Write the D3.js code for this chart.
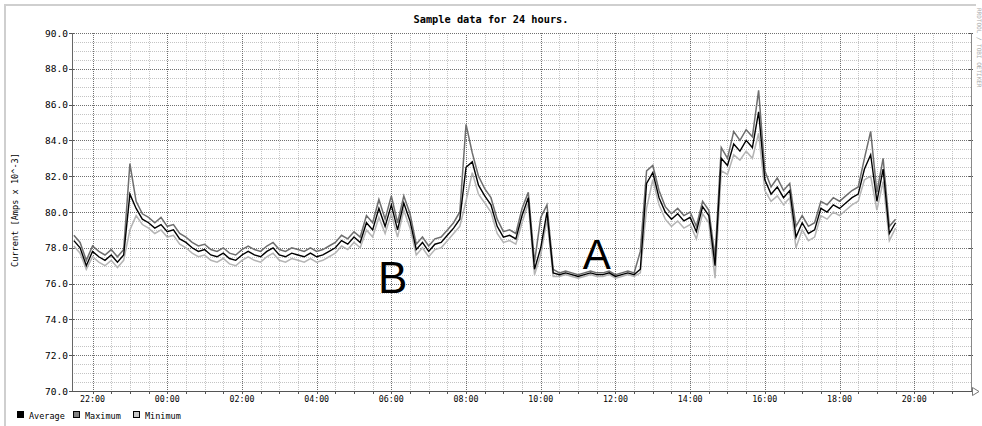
<!DOCTYPE html>
<html>
<head>
<meta charset="utf-8">
<script src="https://cdn.jsdelivr.net/npm/d3@7"></script>
<style>
  body { margin: 0; background: #fff; }
  svg { display: block; }
  text { font-family: "DejaVu Sans Mono", monospace; fill: #000; }
</style>
</head>
<body>
<svg width="982" height="426"></svg>
<script>
// samples every 10 min starting 21:30
const avgValues = [
  78.4, 78.0, 77.0, 77.8, 77.5, 77.3, 77.6, 77.2, 77.6, 81.0,
  80.2, 79.6, 79.4, 79.1, 79.3, 78.9, 79.0, 78.5, 78.3, 78.0,
  77.8, 77.9, 77.6, 77.5, 77.7, 77.4, 77.3, 77.6, 77.8, 77.6,
  77.5, 77.8, 78.0, 77.6, 77.5, 77.7, 77.6, 77.5, 77.7, 77.5,
  77.6, 77.8, 78.0, 78.4, 78.2, 78.6, 78.3, 79.4, 79.0, 80.2,
  79.2, 80.4, 79.0, 80.5, 79.5, 77.9, 78.3, 77.8, 78.2, 78.3,
  78.7, 79.1, 79.6, 82.5, 82.8, 81.5, 80.9, 80.4, 79.2, 78.6,
  78.7, 78.5, 79.8, 80.8, 76.8, 78.0, 80.0, 76.6, 76.5, 76.6,
  76.5, 76.4, 76.5, 76.6, 76.5, 76.5, 76.6, 76.4, 76.5, 76.6,
  76.5, 76.8, 81.6, 82.2, 80.8, 80.0, 79.6, 79.9, 79.5, 79.7,
  78.9, 80.3, 79.8, 77.0, 83.0, 82.6, 83.8, 83.4, 84.0, 83.6,
  85.6, 81.8, 81.0, 81.4, 80.8, 81.2, 78.6, 79.4, 78.8, 79.0,
  80.2, 80.0, 80.4, 80.2, 80.5, 80.8, 81.0, 82.4, 83.2, 80.6,
  82.4, 78.8, 79.4
]
const maxValues = [
  78.7, 78.3, 77.3, 78.1, 77.8, 77.6, 77.9, 77.5, 77.9, 82.7,
  80.6, 79.9, 79.7, 79.4, 79.7, 79.2, 79.3, 78.8, 78.6, 78.3,
  78.1, 78.2, 77.9, 77.8, 78.0, 77.7, 77.6, 77.9, 78.1, 77.9,
  77.8, 78.1, 78.3, 77.9, 77.8, 78.0, 77.9, 77.8, 78.0, 77.8,
  77.9, 78.1, 78.3, 78.7, 78.5, 78.9, 78.6, 79.8, 79.4, 80.7,
  79.6, 80.9, 79.4, 80.9, 79.9, 78.2, 78.6, 78.1, 78.5, 78.6,
  79.0, 79.4, 80.0, 84.9, 83.3, 82.0, 81.3, 80.8, 79.6, 78.9,
  79.0, 78.8, 80.2, 81.1, 77.2, 79.7, 80.4, 76.8, 76.6, 76.7,
  76.6, 76.5, 76.6, 76.7, 76.6, 76.6, 76.7, 76.5, 76.6, 76.7,
  76.6, 77.8, 82.3, 82.6, 81.2, 80.3, 79.9, 80.2, 79.8, 80.0,
  79.2, 80.6, 80.1, 77.5, 83.6, 83.0, 84.5, 84.0, 84.6, 84.2,
  86.8, 82.3, 81.4, 81.9, 81.2, 81.6, 79.2, 79.8, 79.2, 79.4,
  80.6, 80.4, 80.8, 80.6, 80.9, 81.2, 81.4, 83.0, 84.5, 81.1,
  83.0, 79.2, 79.6
]
const minValues = [
  78.1, 77.7, 76.8, 77.5, 77.2, 77.0, 77.3, 76.9, 77.3, 79.0,
  79.8, 79.3, 79.1, 78.8, 79.0, 78.6, 78.7, 78.2, 78.0, 77.7,
  77.5, 77.6, 77.3, 77.2, 77.4, 77.1, 77.0, 77.3, 77.5, 77.3,
  77.2, 77.5, 77.7, 77.3, 77.2, 77.4, 77.3, 77.2, 77.4, 77.2,
  77.3, 77.5, 77.7, 78.1, 77.9, 78.3, 78.0, 79.0, 78.6, 79.7,
  78.8, 79.9, 78.6, 80.1, 79.1, 77.6, 78.0, 77.5, 77.9, 78.0,
  78.4, 78.8, 79.2, 80.6, 82.2, 81.0, 80.5, 80.0, 78.8, 78.3,
  78.4, 78.2, 79.4, 80.5, 76.5, 77.6, 79.6, 76.4, 76.4, 76.5,
  76.4, 76.3, 76.4, 76.5, 76.4, 76.4, 76.5, 76.3, 76.4, 76.5,
  76.4, 76.6, 80.2, 81.8, 80.4, 79.6, 79.2, 79.5, 79.1, 79.3,
  78.5, 79.9, 79.4, 76.3, 82.3, 82.1, 83.2, 82.9, 83.4, 83.0,
  84.4, 81.2, 80.6, 80.9, 80.4, 80.8, 78.0, 79.0, 78.4, 78.6,
  79.8, 79.6, 80.0, 79.8, 80.1, 80.4, 80.6, 81.8, 82.0, 80.1,
  81.7, 78.4, 79.1
]
const yTicks = [70, 72, 74, 76, 78, 80, 82, 84, 86, 88, 90]
const legendItems = [
  { name: 'Average', fill: '#000' },
  { name: 'Maximum', fill: '#808080' },
  { name: 'Minimum', fill: '#c8c8c8' }
]
const notes = [
  { label: 'B', t: [6, 2], v: 75.5, size: 44 },
  { label: 'A', t: [11, 30], v: 76.8, size: 42 }
]

const tStart = new Date(Date.UTC(2024, 0, 1, 21, 27))
const tEnd = new Date(tStart.getTime() + 24 * 3600e3)
const sampleStart = new Date(Date.UTC(2024, 0, 1, 21, 30))
const timeAt = i => new Date(sampleStart.getTime() + i * 600e3)
const noteTime = t => new Date(Date.UTC(2024, 0, t[0] < 21 ? 2 : 1, t[0], t[1]))

const pLeft = 72, pTop = 33, pBottom = 391, pRight = 971
const x = d3.scaleUtc().domain([tStart, tEnd]).range([pLeft, 968.4])
const y = d3.scaleLinear().domain([70, 90]).range([pBottom, pTop])

const svg = d3.select('svg')

// frame
svg.append('path')
   .attr('d', `M5,426 V5 H976`)
   .attr('fill', 'none')
   .attr('stroke', '#cfcfcf')
   .attr('stroke-width', 2)

const grid = svg.append('g').attr('shape-rendering', 'crispEdges')
const py = v => Math.round(y(v)) + 0.5

// horizontal grid
d3.range(70.5, 90, 0.5).filter(v => v % 2 !== 0).forEach(v => {
    grid.append('line')
        .attr('x1', pLeft).attr('x2', pRight)
        .attr('y1', py(v)).attr('y2', py(v))
        .attr('stroke', '#c4c4c4').attr('stroke-dasharray', '1,1')
})
// vertical grid
d3.utcMinute.every(30).range(tStart, tEnd).forEach(t => {
    if (x(t) < pLeft + 3) return
    const major = t.getUTCMinutes() === 0 && t.getUTCHours() % 2 === 0
    const px = Math.round(x(t)) + 0.5
    grid.append('line')
        .attr('x1', px).attr('x2', px)
        .attr('y1', pTop).attr('y2', pBottom)
        .attr('stroke', major ? '#707070' : '#c4c4c4').attr('stroke-dasharray', '1,1')
    grid.append('line')
        .attr('x1', px).attr('x2', px)
        .attr('y1', pBottom).attr('y2', pBottom + 3)
        .attr('stroke', '#555')
})
yTicks.forEach(v => {
    grid.append('line')
        .attr('x1', pLeft).attr('x2', pRight)
        .attr('y1', py(v)).attr('y2', py(v))
        .attr('stroke', '#707070').attr('stroke-dasharray', '1,1')
    grid.append('line')
        .attr('x1', pLeft - 3).attr('x2', pLeft + 2)
        .attr('y1', py(v)).attr('y2', py(v))
        .attr('stroke', '#555')
    grid.append('line')
        .attr('x1', pRight - 2).attr('x2', pRight + 2)
        .attr('y1', py(v)).attr('y2', py(v))
        .attr('stroke', '#555')
})

// axes lines
grid.append('line').attr('x1', pLeft + 0.5).attr('x2', pLeft + 0.5)
    .attr('y1', pTop).attr('y2', pBottom).attr('stroke', '#666')
grid.append('line').attr('x1', pRight + 0.5).attr('x2', pRight + 0.5)
    .attr('y1', pTop).attr('y2', pBottom).attr('stroke', '#888')
grid.append('line').attr('x1', pLeft).attr('x2', pRight + 3)
    .attr('y1', pBottom + 0.5).attr('y2', pBottom + 0.5).attr('stroke', '#555')
svg.append('path')
   .attr('d', `M${pRight + 1.5},${pBottom - 3.5} L${pRight + 8},${pBottom + 0.5} L${pRight + 1.5},${pBottom + 4.5} Z`)
   .attr('fill', '#fff').attr('stroke', '#777')

// y labels
svg.selectAll('.ylab').data(yTicks).enter().append('text')
   .attr('x', 68).attr('y', d => y(d) + 3.5)
   .attr('text-anchor', 'end')
   .style('font-size', '9.5px')
   .text(d => d.toFixed(1))

// x labels
svg.selectAll('.xlab').data(d3.utcHour.every(2).range(tStart, tEnd)).enter().append('text')
   .attr('x', d => x(d)).attr('y', 402)
   .attr('text-anchor', 'middle')
   .style('font-size', '8.3px')
   .text(d3.utcFormat('%H:%M'))

// series
const line = vals => d3.line()
    .x((d, i) => x(timeAt(i)))
    .y(d => y(d))(vals)

svg.append('path').attr('d', line(minValues))
   .attr('fill', 'none').attr('stroke', '#b4b4b4').attr('stroke-width', 1.5)
svg.append('path').attr('d', line(maxValues))
   .attr('fill', 'none').attr('stroke', '#6e6e6e').attr('stroke-width', 1.5)
svg.append('path').attr('d', line(avgValues))
   .attr('fill', 'none').attr('stroke', '#000').attr('stroke-width', 1.4)

// annotations
notes.forEach(n => {
    svg.append('text')
       .attr('x', x(noteTime(n.t))).attr('y', y(n.v))
       .attr('text-anchor', 'middle')
       .style('font-family', '"Liberation Sans", Arial, sans-serif')
       .style('font-size', n.size + 'px')
       .text(n.label)
})

// title
svg.append('text')
   .attr('x', 491).attr('y', 23)
   .attr('text-anchor', 'middle')
   .style('font-size', '10.3px').style('font-weight', 'bold')
   .text('Sample data for 24 hours.')

// vertical label
svg.append('text')
   .attr('transform', 'translate(18,210) rotate(-90)')
   .attr('text-anchor', 'middle')
   .style('font-size', '8.6px')
   .text('Current [Amps x 10^-3]')

// watermark
svg.append('text')
   .attr('transform', 'translate(977,8) rotate(90)')
   .style('font-size', '6px').style('fill', '#aaa')
   .text('RRDTOOL / TOBI OETIKER')

// legend
const lg = svg.append('g')
legendItems.forEach((d, i) => {
    const lx = [17, 73, 133][i]
    lg.append('rect').attr('x', lx + 0.5).attr('y', 411.5).attr('width', 6).attr('height', 6)
      .attr('fill', d.fill).attr('stroke', '#000')
    lg.append('text').attr('x', lx + 12).attr('y', 418.5)
      .style('font-size', '8.5px').text(d.name)
})
</script>
</body>
</html>
